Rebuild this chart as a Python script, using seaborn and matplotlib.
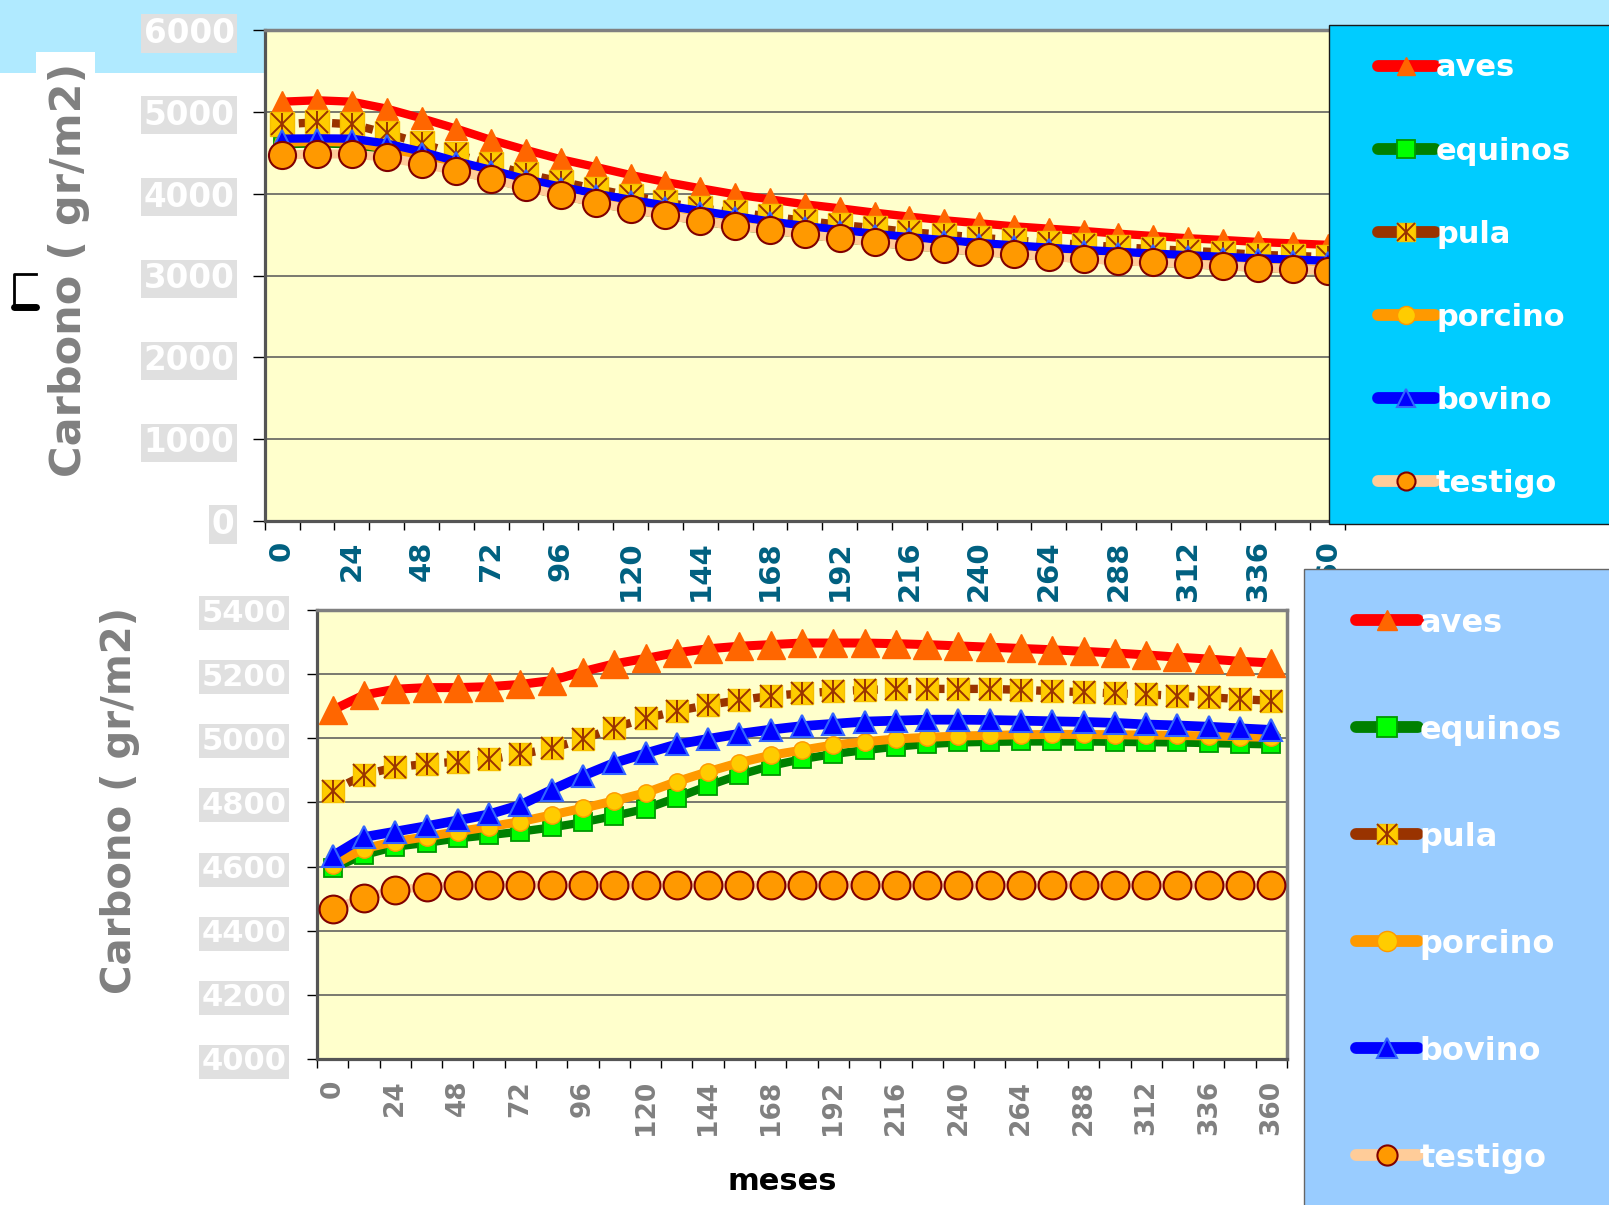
import matplotlib
matplotlib.use("Agg")
import matplotlib.pyplot as plt
import numpy as np
import seaborn as sns
from matplotlib.lines import Line2D
from matplotlib.patches import Rectangle
from matplotlib.legend_handler import HandlerTuple

# ---------------- data ----------------
months = list(range(0, 361, 12))
month_labels = [str(m) for m in months[::2]]
series_names = ["aves", "equinos", "pula", "porcino", "bovino", "testigo"]

# upper panel: carbon decline (gr/m2)
aves_top = [5124, 5141, 5124, 5039, 4921, 4794, 4656, 4534, 4420, 4326, 4228,
            4143, 4066, 3992, 3931, 3870, 3821, 3768, 3719, 3675, 3638, 3601,
            3572, 3544, 3511, 3483, 3455, 3434, 3410, 3392, 3375]
equinos_top = [4600, 4610, 4600, 4520, 4400, 4280, 4175, 4072, 3978, 3885, 3803,
               3733, 3664, 3598, 3549, 3497, 3448, 3400, 3359, 3322, 3285, 3257,
               3224, 3200, 3175, 3155, 3135, 3114, 3090, 3074, 3052]
pula_top = [4848, 4872, 4848, 4738, 4615, 4481, 4359, 4240, 4147, 4057, 3976,
            3895, 3821, 3772, 3721, 3668, 3619, 3578, 3530, 3497, 3464, 3428,
            3403, 3375, 3346, 3322, 3302, 3281, 3253, 3240, 3225]
porcino_top = [4620, 4630, 4620, 4545, 4425, 4305, 4198, 4095, 4000, 3908, 3825,
               3755, 3686, 3620, 3570, 3518, 3469, 3421, 3380, 3343, 3306, 3278,
               3246, 3222, 3197, 3177, 3157, 3136, 3112, 3096, 3075]
bovino_top = [4672, 4676, 4672, 4612, 4515, 4395, 4290, 4175, 4085, 4000, 3925,
              3855, 3790, 3725, 3660, 3605, 3555, 3510, 3468, 3432, 3398, 3368,
              3340, 3312, 3290, 3268, 3248, 3228, 3210, 3195, 3180]
testigo_top = [4473, 4485, 4485, 4444, 4363, 4281, 4179, 4078, 3984, 3890, 3809,
               3739, 3670, 3605, 3556, 3503, 3455, 3406, 3365, 3328, 3291, 3263,
               3230, 3206, 3181, 3161, 3141, 3120, 3096, 3080, 3058]

# lower panel: carbon recovery (gr/m2)
aves_bot = [5088, 5135, 5153, 5158, 5158, 5161, 5168, 5180, 5208, 5232, 5249,
            5267, 5279, 5287, 5292, 5297, 5297, 5297, 5295, 5292, 5288, 5284,
            5280, 5276, 5271, 5266, 5260, 5253, 5247, 5240, 5235]
equinos_bot = [4595, 4636, 4662, 4674, 4688, 4698, 4709, 4722, 4738, 4758, 4780,
               4815, 4852, 4886, 4914, 4935, 4951, 4963, 4974, 4982, 4987, 4989,
               4990, 4990, 4990, 4989, 4988, 4987, 4985, 4983, 4981]
pula_bot = [4836, 4886, 4910, 4920, 4927, 4934, 4950, 4969, 4997, 5033, 5062,
            5085, 5104, 5119, 5132, 5140, 5146, 5151, 5153, 5154, 5154, 5154,
            5151, 5147, 5144, 5140, 5137, 5132, 5128, 5122, 5117]
porcino_bot = [4605, 4656, 4678, 4693, 4709, 4724, 4740, 4761, 4782, 4805, 4830,
               4865, 4896, 4924, 4947, 4963, 4979, 4989, 4998, 5003, 5007, 5009,
               5011, 5012, 5012, 5011, 5010, 5009, 5007, 5005, 5003]
bovino_bot = [4633, 4692, 4709, 4726, 4744, 4763, 4792, 4839, 4883, 4923, 4953,
              4981, 4998, 5014, 5027, 5038, 5045, 5052, 5055, 5058, 5058, 5057,
              5055, 5053, 5051, 5048, 5043, 5040, 5036, 5031, 5026]
testigo_bot = [4468, 4503, 4527, 4537, 4541, 4542, 4542, 4542, 4542, 4542, 4542,
               4542, 4542, 4542, 4542, 4542, 4542, 4542, 4542, 4542, 4542, 4542,
               4542, 4542, 4542, 4542, 4542, 4542, 4542, 4542, 4542]

top_data = dict(zip(series_names, [aves_top, equinos_top, pula_top,
                                   porcino_top, bovino_top, testigo_top]))
bot_data = dict(zip(series_names, [aves_bot, equinos_bot, pula_bot,
                                   porcino_bot, bovino_bot, testigo_bot]))

# ---------------- styles ----------------
STYLE = {
    "aves":    dict(line="#FF0000", ls="-", marker="^", mfc="#FF6600", mec="#FF6600", mew=1.0),
    "equinos": dict(line="#008000", ls="-", marker="s", mfc="#00FF00", mec="#009900", mew=1.3),
    "pula":    dict(line="#993300", ls=(0, (1, 1)), marker="s", mfc="#FFCC00", mec="#F5C000", mew=1.0),
    "porcino": dict(line="#FF9900", ls="-", marker="o", mfc="#FFCC00", mec="#FF9900", mew=1.0),
    "bovino":  dict(line="#0000FF", ls="-", marker="^", mfc="#0000FF", mec="#3366FF", mew=1.5),
    "testigo": dict(line="#FFCC99", ls="-", marker="o", mfc="#FF9900", mec="#800000", mew=1.5),
}
SIZES_TOP = dict(aves=16, equinos=12, pula=17, porcino=11, bovino=13, testigo=19.5)
SIZES_BOT = dict(aves=19.5, equinos=13, pula=16.5, porcino=12.5, bovino=16, testigo=20)
LW_TOP = dict(aves=6, equinos=5.5, pula=6, porcino=5.5, bovino=6, testigo=6.5)
LW_BOT = dict(aves=6.5, equinos=6, pula=6, porcino=6.5, bovino=7, testigo=6)

W, H = 1609, 1205
fig = plt.figure(figsize=(W / 100, H / 100), dpi=100)


def fx(x):
    return x / W


def fy(y):
    return 1 - y / H


def draw_series(ax, data, sizes, widths):
    for k, name in enumerate(series_names):
        st = STYLE[name]
        z = 3 + k
        sns.lineplot(x=months, y=data[name], ax=ax, color=st["line"],
                     linewidth=widths[name], linestyle=st["ls"],
                     dash_capstyle="butt", solid_capstyle="round",
                     marker=st["marker"], markersize=sizes[name],
                     markerfacecolor=st["mfc"], markeredgecolor=st["mec"],
                     markeredgewidth=st["mew"], legend=False, zorder=z)
        if name == "pula":
            for m in ("x", "|"):
                sns.lineplot(x=months, y=data[name], ax=ax, color="#993300",
                             linestyle="none", marker=m,
                             markersize=sizes[name] * 0.95,
                             markeredgecolor="#993300", markeredgewidth=1.4,
                             legend=False, zorder=z + 0.5)


def style_axes(ax, ylim, yticks, xlab_color, ytick_len, ylab_pad, ylab_size,
               xlab_pad, xlab_size):
    ax.set_facecolor("#FFFFCC")
    ax.set_xlim(-6, 366)
    ax.set_ylim(*ylim)
    ax.set_yticks(yticks)
    ax.set_yticklabels([str(v) for v in yticks])
    ax.set_xticks(np.arange(-6, 367, 12))
    ax.set_xticklabels([])
    ax.set_xticks(months[::2], minor=True)
    ax.set_xticklabels(month_labels, minor=True, rotation=90,
                       fontsize=xlab_size, fontweight="bold", color=xlab_color)
    ax.tick_params(axis="x", which="minor", length=0, pad=xlab_pad)
    ax.tick_params(axis="x", which="major", length=6.5, width=1,
                   color="black", direction="out")
    ax.tick_params(axis="y", which="major", length=ytick_len, width=1,
                   color="black", direction="out", pad=ylab_pad,
                   labelsize=ylab_size, labelcolor="white")
    for lab in ax.get_yticklabels():
        lab.set_fontweight("bold")
        lab.set_bbox(dict(boxstyle="square,pad=0.08", fc="#E0E0E0", ec="none"))
    ax.yaxis.grid(True, color="#555555", linewidth=1.1)
    ax.xaxis.grid(False)
    ax.set_axisbelow(True)
    for s in ("top", "right"):
        ax.spines[s].set_color("#808080")
        ax.spines[s].set_linewidth(2.5)
    for s in ("left", "bottom"):
        ax.spines[s].set_color("#555555")
        ax.spines[s].set_linewidth(2.3)
    ax.set_xlabel("")
    ax.set_ylabel("")


# ---------------- background decorations ----------------
fig.add_artist(Rectangle((0, fy(73)), 1, 73 / H, transform=fig.transFigure,
                         fc="#B0EAFF", ec="none", zorder=-10))
fig.add_artist(Rectangle((fx(36), fy(73)), (95 - 36) / W, (73 - 52) / H,
                         transform=fig.transFigure, fc="white", ec="none",
                         zorder=-9))
fig.add_artist(Line2D([fx(36), fx(14), fx(14)], [fy(274), fy(274), fy(306)],
                      transform=fig.transFigure, color="black", lw=2))
fig.add_artist(Line2D([fx(14), fx(36)], [fy(307), fy(307)],
                      transform=fig.transFigure, color="black", lw=5,
                      solid_capstyle="round"))

# ---------------- upper panel ----------------
ax1 = fig.add_axes([fx(264.7), fy(521), (1345 - 264.7) / W, (521 - 30) / H])
draw_series(ax1, top_data, SIZES_TOP, LW_TOP)
style_axes(ax1, (0, 6000), list(range(0, 6001, 1000)), "#006080",
           ytick_len=8.6, ylab_pad=13, ylab_size=23.5, xlab_pad=14, xlab_size=21)

# ---------------- lower panel ----------------
ax2 = fig.add_axes([fx(317), fy(1059), (1287 - 317) / W, (1059 - 610) / H])
draw_series(ax2, bot_data, SIZES_BOT, LW_BOT)
style_axes(ax2, (4000, 5400), list(range(4000, 5401, 200)), "#808080",
           ytick_len=7.2, ylab_pad=15, ylab_size=22, xlab_pad=15, xlab_size=19)

# ---------------- axis titles ----------------
fig.text(fx(69), fy(270), "Carbono ( gr/m2)", rotation=90, ha="center",
         va="center", fontsize=31, fontweight="bold", color="#808080")
fig.text(fx(120), fy(800), "Carbono ( gr/m2)", rotation=90, ha="center",
         va="center", fontsize=29, fontweight="bold", color="#808080")
fig.text(fx(782), fy(1182), "meses", ha="center", va="center", fontsize=22,
         fontweight="bold", color="black")

# ---------------- legends ----------------
fig.add_artist(Rectangle((fx(1329), fy(524)), (1620 - 1329) / W, (524 - 25) / H,
                         transform=fig.transFigure, fc="#00CCFF", ec="#1A1A1A",
                         lw=1, zorder=4))
fig.add_artist(Rectangle((fx(1304), fy(1215)), (1620 - 1304) / W, (1215 - 569) / H,
                         transform=fig.transFigure, fc="#99CCFF", ec="#666666",
                         lw=1, zorder=4))


def legend_handles(msize):
    handles = []
    for name in series_names:
        st = STYLE[name]
        h = Line2D([], [], color=st["line"], lw=8.5, solid_capstyle="round",
                   marker=st["marker"], ms=msize, mfc=st["mfc"], mec=st["mec"],
                   mew=st["mew"])
        if name == "pula":
            h = (h,
                 Line2D([], [], ls="none", marker="x", ms=msize * 0.95,
                        mec="#993300", mew=1.4),
                 Line2D([], [], ls="none", marker="|", ms=msize * 0.95,
                        mec="#993300", mew=1.4))
        handles.append(h)
    return handles


LEGEND_LAYOUT = (
    # x0, y0, marker size, font size, row spacing, handle length
    (1378, 53.5, 13, 22, 1.77, 1.85),
    (1356, 607.5, 14.5, 23, 2.38, 1.94),
)
for (x0, y0, msize, fsize, spacing, hlen) in LEGEND_LAYOUT:
    leg = fig.legend(legend_handles(msize), series_names, loc="upper left",
                     bbox_to_anchor=(fx(x0), fy(y0)), frameon=False,
                     prop=dict(size=fsize, weight="bold"), labelcolor="white",
                     handlelength=hlen, handletextpad=0.05,
                     labelspacing=spacing, borderpad=0, borderaxespad=0,
                     numpoints=1,
                     handler_map={tuple: HandlerTuple(ndivide=1)})
    leg.set_zorder(6)

fig.savefig("out.png", dpi=100)
